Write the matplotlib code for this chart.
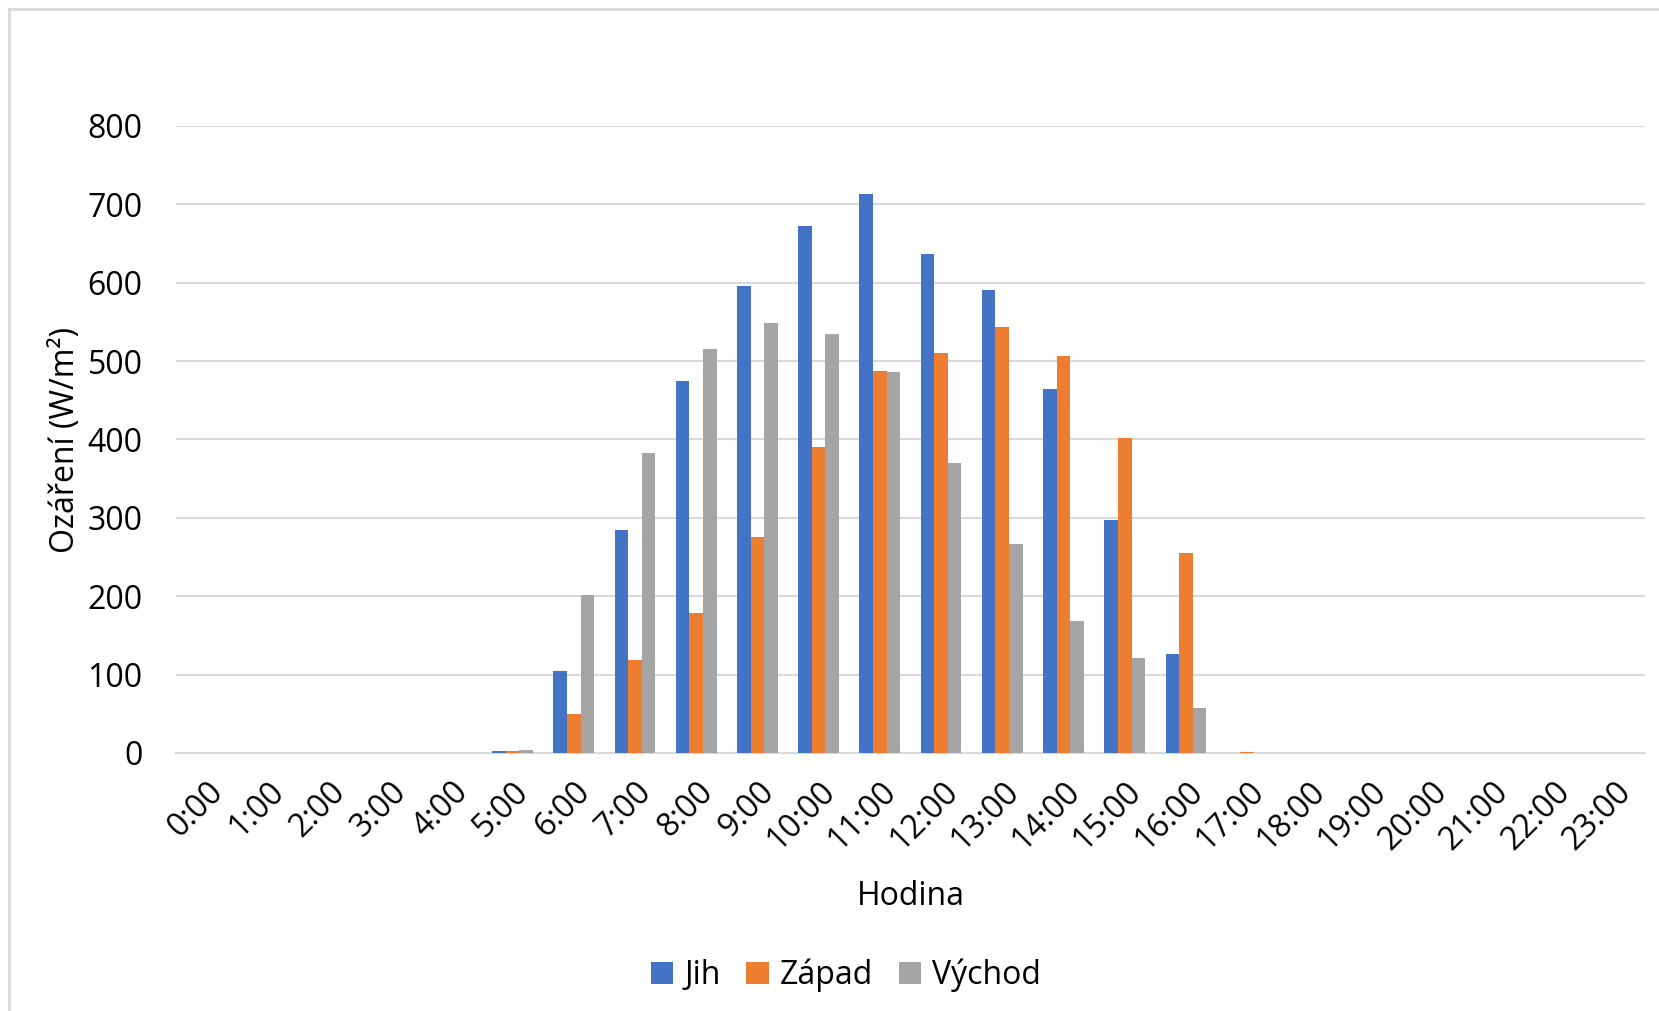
import matplotlib.pyplot as plt
import numpy as np
from matplotlib.lines import Line2D

hours = [f"{h}:00" for h in range(24)]
jih = [0, 0, 0, 0, 0, 2, 104, 285, 475, 596, 672, 713, 637, 591, 464, 297, 126, 0, 0, 0, 0, 0, 0, 0]
zapad = [0, 0, 0, 0, 0, 2, 50, 119, 178, 275, 390, 487, 510, 544, 506, 402, 255, 1.5, 0, 0, 0, 0, 0, 0]
vychod = [0, 0, 0, 0, 0, 4, 201, 383, 515, 549, 534, 486, 370, 267, 169, 121, 57, 0, 0, 0, 0, 0, 0, 0]

series = [("Jih", jih, "#4472C4"), ("Západ", zapad, "#ED7D31"), ("Východ", vychod, "#A5A5A5")]

plt.rcParams['font.family'] = ['Open Sans', 'DejaVu Sans']

fig = plt.figure(figsize=(16.59, 10.11), dpi=100)
ax = fig.add_axes([0.106, 0.2552, 0.8856, 0.6202])

x = np.arange(len(hours))
w = 1 / 4.5
for i, (name, vals, col) in enumerate(series):
    ax.bar(x + (i - 1) * w, vals, width=w, color=col, label=name, zorder=3)

fs = 23
ax.set_xlim(-0.5, len(hours) - 0.5)
ax.set_ylim(0, 800)
ax.set_yticks(range(0, 801, 100))
ax.set_xticks(x)
ax.set_xticklabels(hours, rotation=45, ha="right", rotation_mode="anchor")
ax.tick_params(axis="both", length=0, labelsize=fs, colors="black")
ax.tick_params(axis="y", pad=24)
ax.tick_params(axis="x", pad=16)
ax.grid(axis="y", color="#d9d9d9", lw=1.5, zorder=0)
for s in ["top", "right", "left"]:
    ax.spines[s].set_visible(False)
ax.spines["bottom"].set_color("#d9d9d9")
ax.spines["bottom"].set_linewidth(1.5)

ax.set_xlabel("Hodina", fontsize=fs, labelpad=17)
ax.set_ylabel("Ozáření (W/m²)", fontsize=fs, labelpad=4)

fig.legend(loc="lower center", bbox_to_anchor=(0.51, -0.010), ncol=3, frameon=False,
           fontsize=fs, handlelength=0.7, handleheight=0.7, handletextpad=0.35, columnspacing=0.8)

# outer chart frame (left and top edges)
fig.add_artist(Line2D([9 / 1659, 9 / 1659], [0, 1 - 9 / 1011], color="#d9d9d9", lw=2, transform=fig.transFigure))
fig.add_artist(Line2D([9 / 1659, 1], [1 - 9 / 1011, 1 - 9 / 1011], color="#d9d9d9", lw=2, transform=fig.transFigure))

fig.savefig("out.png", dpi=100)
